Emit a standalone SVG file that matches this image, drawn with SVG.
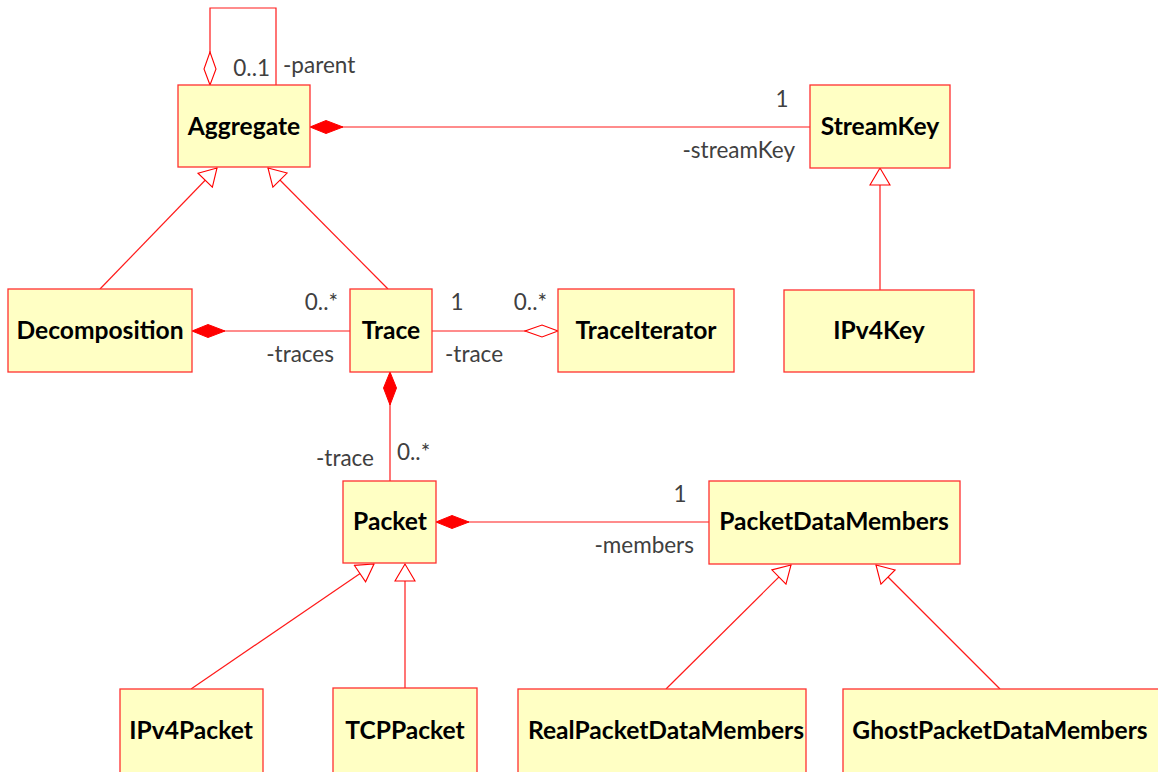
<svg xmlns="http://www.w3.org/2000/svg" width="1158" height="772" viewBox="0 0 1158 772">
<style>
.box{fill:#ffffc4;stroke:#ff3030;stroke-width:1.3}
.name{font-family:Lato,"Noto Sans",sans-serif;font-weight:bold;font-size:24.6px;fill:#000;text-anchor:middle}
.lbl{font-family:Lato,"Noto Sans",sans-serif;font-size:22.5px;fill:#404040}
.ln{fill:none;stroke:#ff1a1a;stroke-width:1.2}
.comp{marker-start:url(#fd)}
.agg{marker-start:url(#hd)}
.gen{marker-end:url(#tri)}
</style>
<defs>
<marker id="fd" markerUnits="userSpaceOnUse" viewBox="-1 -7 35 14" markerWidth="35" markerHeight="14" refX="0" refY="0" orient="auto">
<path d="M0,0 L16,-6.5 L33,0 L16,6.5 Z" fill="#ff0000" stroke="#ff0000" stroke-width="1"/>
</marker>
<marker id="hd" markerUnits="userSpaceOnUse" viewBox="-1 -7 35 14" markerWidth="35" markerHeight="14" refX="0" refY="0" orient="auto">
<path d="M0,0 L16,-6 L33,0 L16,6 Z" fill="#fff" stroke="#ff0000" stroke-width="1.1"/>
</marker>
<marker id="tri" markerUnits="userSpaceOnUse" viewBox="-19 -11 21 22" markerWidth="21" markerHeight="22" refX="0" refY="0" orient="auto">
<path d="M0,0 L-17,-10 L-17,10 Z" fill="#fff" stroke="#ff0000" stroke-width="1.1"/>
</marker>
</defs>
<g id="connectors">
<path class="ln agg" d="M210,85 L210,8 L276,8 L276,85"/>
<path class="ln comp" d="M310,127 L810,127"/>
<path class="ln comp" d="M192,331 L350,331"/>
<path class="ln agg" d="M558,331 L432,331"/>
<path class="ln comp" d="M390,372 L390,481"/>
<path class="ln comp" d="M436,522 L709,522"/>
<path class="ln gen" d="M100,289 L217,168"/>
<path class="ln gen" d="M388,289 L268,168"/>
<path class="ln gen" d="M880,290 L880,168"/>
<path class="ln gen" d="M191,689 L374,564"/>
<path class="ln gen" d="M405,688 L405,564"/>
<path class="ln gen" d="M666,689 L791,565"/>
<path class="ln gen" d="M1000,689 L876,565"/>
<text class="lbl" x="270" y="76" text-anchor="end">0..1</text>
<text class="lbl" x="283" y="73">-parent</text>
<text class="lbl" x="782" y="107" text-anchor="middle">1</text>
<text class="lbl" x="795" y="158" text-anchor="end">-streamKey</text>
<text class="lbl" x="338" y="310" text-anchor="end">0..*</text>
<text class="lbl" x="334" y="362" text-anchor="end">-traces</text>
<text class="lbl" x="457" y="310" text-anchor="middle">1</text>
<text class="lbl" x="547" y="310" text-anchor="end">0..*</text>
<text class="lbl" x="445" y="362">-trace</text>
<text class="lbl" x="374" y="466" text-anchor="end">-trace</text>
<text class="lbl" x="397" y="460">0..*</text>
<text class="lbl" x="680" y="502" text-anchor="middle">1</text>
<text class="lbl" x="694" y="553" text-anchor="end">-members</text>
</g>
<g id="Aggregate"><rect class="box" x="178" y="85" width="132" height="82"/><text class="name" x="244" y="135">Aggregate</text></g>
<g id="StreamKey"><rect class="box" x="810" y="85" width="140" height="83"/><text class="name" x="880" y="135">StreamKey</text></g>
<g id="Decomposition"><rect class="box" x="8" y="289" width="184" height="83"/><text class="name" x="100" y="339">Decomposition</text></g>
<g id="Trace"><rect class="box" x="350" y="289" width="82" height="83"/><text class="name" x="391" y="339">Trace</text></g>
<g id="TraceIterator"><rect class="box" x="558" y="289" width="176" height="83"/><text class="name" x="646" y="339">TraceIterator</text></g>
<g id="IPv4Key"><rect class="box" x="784" y="290" width="190" height="82"/><text class="name" x="879" y="339">IPv4Key</text></g>
<g id="Packet"><rect class="box" x="343" y="481" width="93" height="82"/><text class="name" x="390" y="530">Packet</text></g>
<g id="PacketDataMembers"><rect class="box" x="709" y="481" width="251" height="83"/><text class="name" x="834" y="530">PacketDataMembers</text></g>
<g id="IPv4Packet"><rect class="box" x="120" y="689" width="143" height="90"/><text class="name" x="191" y="739">IPv4Packet</text></g>
<g id="TCPPacket"><rect class="box" x="333" y="688" width="144" height="90"/><text class="name" x="405" y="739">TCPPacket</text></g>
<g id="RealPacketDataMembers"><rect class="box" x="518" y="689" width="288" height="90"/><text class="name" x="666" y="739">RealPacketDataMembers</text></g>
<g id="GhostPacketDataMembers"><rect class="box" x="843" y="689" width="320" height="90"/><text class="name" x="1000" y="739">GhostPacketDataMembers</text></g>
</svg>
